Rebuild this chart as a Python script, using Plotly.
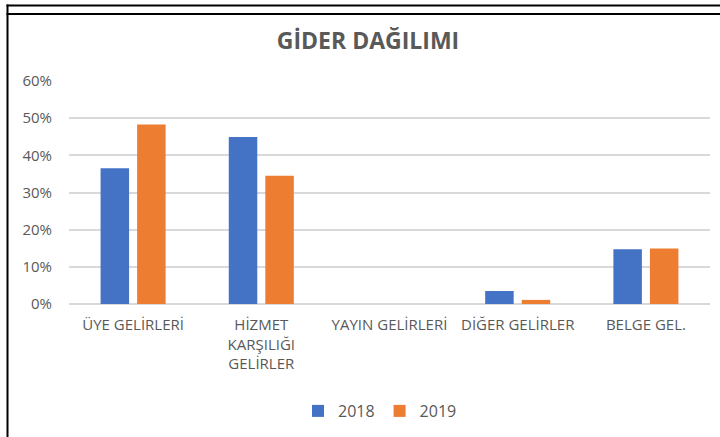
import plotly.graph_objects as go

categories = ["ÜYE GELİRLERİ", "HİZMET<br>KARŞILIĞI<br>GELİRLER", "YAYIN GELİRLERİ", "DİĞER GELİRLER", "BELGE GEL."]
values_2018 = [0.365, 0.449, 0.0, 0.035, 0.147]
values_2019 = [0.483, 0.345, 0.0, 0.011, 0.149]
series_names = ["2018", "2019"]
colors = ["#4472C4", "#ED7D31"]
y_ticks = [0, 0.1, 0.2, 0.3, 0.4, 0.5, 0.6]

W, H = 720, 437
L, R, T, B = 69, 10, 81, 133

fig = go.Figure()
for name, vals, c in zip(series_names, [values_2018, values_2019], colors):
    fig.add_trace(go.Bar(x=categories, y=vals, name=name, marker=dict(color=c, line=dict(width=0))))

font_family = "Open Sans, Liberation Sans, sans-serif"
fig.update_layout(
    width=W, height=H,
    margin=dict(l=L, r=R, t=T, b=B, pad=0),
    paper_bgcolor="white", plot_bgcolor="white",
    barmode="group", bargap=0.43, bargroupgap=0.22,
    title=dict(text="<b>GİDER DAĞILIMI</b>", x=368 / W, xanchor="center",
               y=1 - 41 / H, yanchor="middle",
               font=dict(family=font_family, size=23, color="#595959")),
    font=dict(family=font_family, size=15, color="#595959"),
    showlegend=True,
    legend=dict(orientation="h", x=380 / W, xanchor="center", xref="container", y=1 - 411 / H, yref="container",
                yanchor="middle", font=dict(size=16, color="#595959"), traceorder="normal"),
    xaxis=dict(showgrid=False, showline=False, ticks="", tickfont=dict(size=15, color="#595959"),
               tickangle=0, automargin=False, ticklabelstandoff=10),
    yaxis=dict(range=[0, 0.6], tickvals=y_ticks, tickformat=".0%", showgrid=True, gridcolor="#D9D9D9",
               gridwidth=1.5, zeroline=True, zerolinecolor="#D9D9D9", zerolinewidth=2, showline=False,
               ticks="", tickfont=dict(size=15, color="#595959"), automargin=False, ticklabelstandoff=16),
)

pw = W - L - R
ph = H - T - B
def px_x(p):
    return (p - L) / pw
def px_y(p):
    return 1 - (p - T) / ph

fig.add_shape(type="rect", xref="paper", yref="paper", x0=px_x(6.5), x1=px_x(8.5), y0=px_y(4.5), y1=px_y(437),
              fillcolor="black", line=dict(width=0), layer="above")
fig.add_shape(type="rect", xref="paper", yref="paper", x0=px_x(6.5), x1=px_x(720), y0=px_y(4.5), y1=px_y(6.5),
              fillcolor="black", line=dict(width=0), layer="above")
fig.add_shape(type="rect", xref="paper", yref="paper", x0=px_x(6.5), x1=px_x(720), y0=px_y(13), y1=px_y(15),
              fillcolor="black", line=dict(width=0), layer="above")

fig.write_html("out.html", config={"displayModeBar": False},
               post_script="document.body.style.margin='0';document.body.style.overflow='hidden';")
